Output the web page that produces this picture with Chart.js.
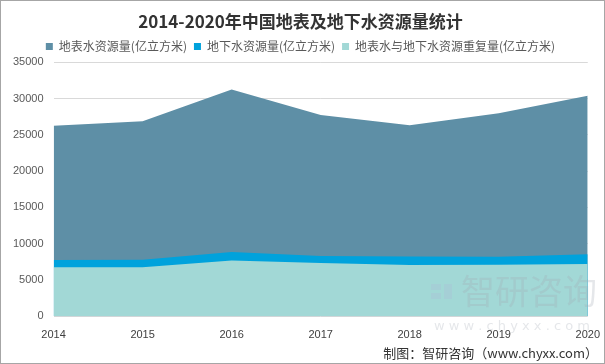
<!DOCTYPE html>
<html>
<head>
<meta charset="utf-8">
<script src="https://cdn.jsdelivr.net/npm/chart.js@4/dist/chart.umd.min.js"></script>
<style>
  html, body { margin: 0; padding: 0; background: #fff; }
  .wrap { width: 605px; height: 364px; box-sizing: border-box; border: 1px solid #a6a6a6; }
</style>
</head>
<body>
<div class="wrap"><canvas id="myChart" width="603" height="362"></canvas></div>
<script>
const years = ['2014', '2015', '2016', '2017', '2018', '2019', '2020'];
const surfaceWater = [26263.9, 26900.8, 31273.9, 27746.3, 26323.2, 27993.3, 30407.0];
const groundWater = [7745.0, 7797.0, 8854.8, 8309.6, 8246.5, 8191.5, 8553.5];
const overlapWater = [6741.0, 6765.0, 7690.0, 7324.0, 7060.0, 7078.0, 7198.0];

// faint watermark over the plot
const watermark = {
    id: 'watermark',
    afterDatasetsDraw(chart) {
        const ctx = chart.ctx;
        ctx.save();
        ctx.fillStyle = 'rgba(170,195,215,0.4)';
        ctx.fillRect(430, 283, 10, 6);
        ctx.fillRect(430, 292, 10, 6);
        ctx.fillRect(443, 283, 8, 15);
        ctx.font = '34px "Noto Sans CJK SC"';
        ctx.textBaseline = 'middle';
        ctx.fillStyle = 'rgba(160,170,180,0.28)';
        ctx.fillText('智研咨询', 460, 290);
        ctx.font = '13px "DejaVu Sans"';
        ctx.fillText('w w w . c h y x x . c o m', 433, 326);
        ctx.restore();
    }
};

const ctx = document.getElementById('myChart');
new Chart(ctx, {
    type: 'line',
    data: {
        labels: years,
        datasets: [{
            label: '地表水资源量(亿立方米)',
            data: surfaceWater,
            backgroundColor: '#5e8fa6',
            borderColor: '#5e8fa6',
            fill: 'origin',
            order: 3
        }, {
            label: '地下水资源量(亿立方米)',
            data: groundWater,
            backgroundColor: '#00a2dc',
            borderColor: '#00a2dc',
            fill: 'origin',
            order: 2
        }, {
            label: '地表水与地下水资源重复量(亿立方米)',
            data: overlapWater,
            backgroundColor: '#a2d8d6',
            borderColor: '#a2d8d6',
            fill: 'origin',
            order: 1
        }]
    },
    options: {
        responsive: false,
        animation: false,
        layout: { padding: { left: 2, right: 6, top: 4, bottom: 0 } },
        elements: {
            point: { radius: 0 },
            line: { borderWidth: 0, tension: 0 }
        },
        plugins: {
            title: {
                display: true,
                text: '2014-2020年中国地表及地下水资源量统计',
                color: '#333',
                font: { family: '"Noto Sans CJK SC"', size: 17, weight: 'bold' },
                padding: { top: 6, bottom: 2 }
            },
            legend: {
                reverse: true,
                labels: {
                    boxWidth: 7,
                    boxHeight: 7,
                    padding: 7,
                    color: '#595959',
                    font: { family: '"Noto Sans CJK SC"', size: 12 }
                }
            },
            subtitle: {
                display: true,
                position: 'bottom',
                align: 'end',
                text: '制图：智研咨询（www.chyxx.com）',
                color: '#333',
                font: { family: '"Noto Sans CJK SC"', size: 13 },
                padding: { top: 0, bottom: 2 }
            },
            tooltip: { enabled: false }
        },
        scales: {
            x: {
                grid: { display: false },
                border: { display: false },
                ticks: {
                    color: '#404040',
                    font: { family: '"Liberation Sans"', size: 11 },
                    maxRotation: 0,
                    padding: 4
                }
            },
            y: {
                min: 0,
                max: 35000,
                grid: { color: '#d9d9d9', drawTicks: false },
                border: { display: false },
                ticks: {
                    stepSize: 5000,
                    color: '#595959',
                    font: { family: '"Liberation Sans"', size: 11 },
                    padding: 10,
                    callback: (v) => String(v)
                }
            }
        }
    },
    plugins: [watermark]
});
</script>
</body>
</html>
